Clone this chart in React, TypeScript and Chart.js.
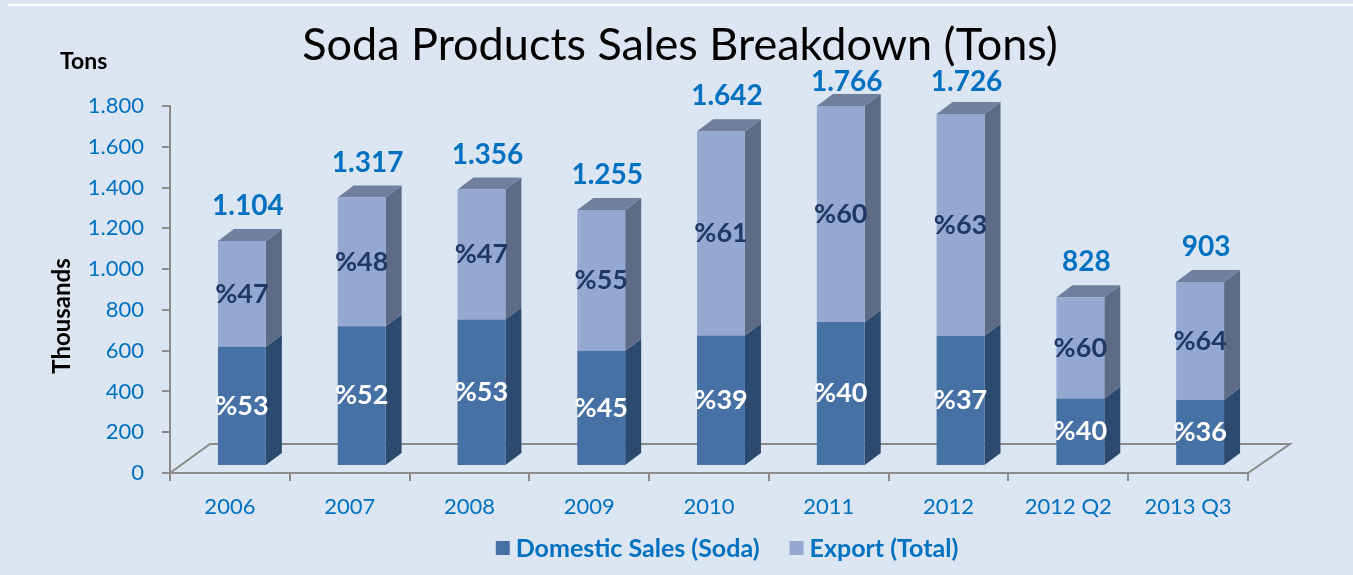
import React, { useEffect, useRef } from 'react';
import { Chart, registerables } from 'chart.js';

Chart.register(...registerables);

const categories = ['2006', '2007', '2008', '2009', '2010', '2011', '2012', '2012 Q2', '2013 Q3'];
const totals = [1104, 1317, 1356, 1255, 1642, 1766, 1726, 828, 903];
const domesticValues = [585, 685, 719, 565, 640, 706, 639, 331, 325];
const exportValues = [519, 632, 637, 690, 1002, 1060, 1087, 497, 578];
const domesticPct = ['%53', '%52', '%53', '%45', '%39', '%40', '%37', '%40', '%36'];
const exportPct = ['%47', '%48', '%47', '%55', '%61', '%60', '%63', '%60', '%64'];
const seriesNames = ['Domestic Sales (Soda)', 'Export (Total)'];
const yTicks = [0, 200, 400, 600, 800, 1000, 1200, 1400, 1600, 1800];

const BG = '#dce6f2';
const AXIS = '#8a8a8a';
const BLUE = '#0070c0';
const DOM_FRONT = '#4571a5';
const DOM_SIDE = '#2c4a6e';
const EXP_FRONT = '#95a9d0';
const EXP_SIDE = '#5d6b85';
const EXP_TOP = '#6f7f9d';
const FONT = 'Lato, "Open Sans", sans-serif';

const DX = 12, DY = -7; // bar depth placement
const SX = 16, SY = -12; // bar side depth

function fmt(v: number): string {
  if (v >= 1000) return `${Math.floor(v / 1000)}.${String(v % 1000).padStart(3, '0')}`;
  return String(v);
}

const threeDPlugin = {
  id: 'threeD',
  beforeDraw(chart: any) {
    const { ctx, width, height } = chart;
    ctx.save();
    ctx.fillStyle = BG;
    ctx.fillRect(0, 0, width, height);
    ctx.fillStyle = '#ffffff';
    ctx.fillRect(8, 4, width - 8, 2);
    ctx.restore();
  },
  beforeDatasetsDraw(chart: any) {
    const { ctx, chartArea: a } = chart;
    ctx.save();
    ctx.strokeStyle = AXIS;
    ctx.lineWidth = 2;
    ctx.beginPath();
    ctx.moveTo(a.left, a.bottom);
    ctx.lineTo(a.left + 40, a.bottom - 29);
    ctx.lineTo(a.right + 42, a.bottom - 29);
    ctx.lineTo(a.right, a.bottom);
    ctx.stroke();
    ctx.restore();

    ctx.save();
    ctx.translate(DX, DY);
    const sides = [DOM_SIDE, EXP_SIDE];
    chart.data.datasets.forEach((_: any, di: number) => {
      const meta = chart.getDatasetMeta(di);
      meta.data.forEach((bar: any) => {
        const { x, y, base, width } = bar.getProps(['x', 'y', 'base', 'width'], true);
        const l = x - width / 2;
        const r = x + width / 2;
        ctx.fillStyle = sides[di];
        ctx.beginPath();
        ctx.moveTo(r, y);
        ctx.lineTo(r + SX, y + SY);
        ctx.lineTo(r + SX, base + SY);
        ctx.lineTo(r, base);
        ctx.closePath();
        ctx.fill();
        if (di === chart.data.datasets.length - 1) {
          ctx.fillStyle = EXP_TOP;
          ctx.beginPath();
          ctx.moveTo(l, y);
          ctx.lineTo(l + SX, y + SY);
          ctx.lineTo(r + SX, y + SY);
          ctx.lineTo(r, y);
          ctx.closePath();
          ctx.fill();
        }
      });
    });
    ctx.restore();
    ctx.save();
    ctx.translate(DX, DY);
  },
  afterDatasetsDraw(chart: any) {
    const { ctx } = chart;
    ctx.restore();

    ctx.save();
    ctx.textAlign = 'center';
    ctx.textBaseline = 'middle';
    const domMeta = chart.getDatasetMeta(0);
    const expMeta = chart.getDatasetMeta(1);
    domMeta.data.forEach((bar: any, i: number) => {
      const { x, y, base } = bar.getProps(['x', 'y', 'base'], true);
      ctx.font = `bold 27px ${FONT}`;
      ctx.fillStyle = '#ffffff';
      ctx.fillText(domesticPct[i], x + DX, (y + base) / 2 + DY);
    });
    expMeta.data.forEach((bar: any, i: number) => {
      const { x, y, base } = bar.getProps(['x', 'y', 'base'], true);
      ctx.font = `bold 27px ${FONT}`;
      ctx.fillStyle = '#1f3864';
      ctx.fillText(exportPct[i], x + DX, (y + base) / 2 + DY);
      ctx.font = `bold 28px ${FONT}`;
      ctx.fillStyle = BLUE;
      const ly = Math.max(y + DY - 35, 82);
      ctx.fillText(fmt(totals[i]), x + DX + 6, ly);
    });

    // title
    ctx.fillStyle = '#000000';
    ctx.font = `45px ${FONT}`;
    ctx.fillText('Soda Products Sales Breakdown (Tons)', 680, 45);

    // Tons
    ctx.font = `bold 23px ${FONT}`;
    ctx.textAlign = 'left';
    ctx.fillText('Tons', 60, 62);

    // Thousands
    ctx.save();
    ctx.translate(62, 316);
    ctx.rotate(-Math.PI / 2);
    ctx.textAlign = 'center';
    ctx.font = `bold 24px ${FONT}`;
    ctx.fillText('Thousands', 0, 0);
    ctx.restore();

    // legend
    ctx.font = `bold 25px ${FONT}`;
    const colors = [DOM_FRONT, EXP_FRONT];
    const box = 14, gapBox = 6, gapItem = 30;
    const widths = seriesNames.map((n) => ctx.measureText(n).width);
    const total = widths.reduce((s, w) => s + box + gapBox + w, 0) + gapItem;
    let lx = 727 - total / 2;
    const ly = 548;
    seriesNames.forEach((n, i) => {
      ctx.fillStyle = colors[i];
      ctx.fillRect(lx, ly - box / 2, box, box);
      ctx.fillStyle = BLUE;
      ctx.textAlign = 'left';
      ctx.fillText(n, lx + box + gapBox, ly + 1);
      lx += box + gapBox + widths[i] + gapItem;
    });
    ctx.restore();
  },
};

export default function App() {
  const ref = useRef<HTMLCanvasElement>(null);
  useEffect(() => {
    document.body.style.margin = '0';
    document.body.style.background = BG;
    if (!ref.current) return;
    const chart = new Chart(ref.current, {
      type: 'bar',
      data: {
        labels: categories,
        datasets: [
          {
            label: seriesNames[0],
            data: domesticValues,
            backgroundColor: DOM_FRONT,
            borderWidth: 0,
            categoryPercentage: 1,
            barPercentage: 0.4,
            clip: false as any,
          },
          {
            label: seriesNames[1],
            data: exportValues,
            backgroundColor: EXP_FRONT,
            borderWidth: 0,
            categoryPercentage: 1,
            barPercentage: 0.4,
            clip: false as any,
          },
        ],
      },
      options: {
        responsive: false,
        animation: false,
        devicePixelRatio: 1,
        layout: { padding: { top: 106, right: 105, left: 0, bottom: 0 } },
        plugins: {
          legend: { display: false },
          title: { display: false },
          tooltip: { enabled: false },
        },
        scales: {
          x: {
            stacked: true,
            offset: true,
            grid: {
              display: true,
              offset: true,
              drawOnChartArea: false,
              drawTicks: true,
              tickLength: 8,
              color: AXIS,
              lineWidth: 2,
            },
            border: { display: true, color: AXIS, width: 2 },
            ticks: {
              color: BLUE,
              font: { family: FONT, size: 22 },
              padding: 13,
              maxRotation: 0,
              autoSkip: false,
            },
            afterFit: (s: any) => {
              s.height = 102;
            },
          },
          y: {
            stacked: true,
            min: 0,
            max: 1800,
            afterBuildTicks: (s: any) => {
              s.ticks = yTicks.map((v) => ({ value: v }));
            },
            grid: {
              display: true,
              drawOnChartArea: false,
              drawTicks: true,
              tickLength: 8,
              color: AXIS,
              lineWidth: 2,
            },
            border: { display: true, color: AXIS, width: 2 },
            ticks: {
              color: BLUE,
              font: { family: FONT, size: 22 },
              padding: 18,
              callback: (v: any) => fmt(Number(v)),
            },
            afterFit: (s: any) => {
              s.width = 170;
            },
          },
        },
      },
      plugins: [threeDPlugin],
    });
    return () => chart.destroy();
  }, []);
  return (
    <canvas
      ref={ref}
      width={1353}
      height={575}
      style={{ display: 'block', width: 1353, height: 575 }}
    />
  );
}
